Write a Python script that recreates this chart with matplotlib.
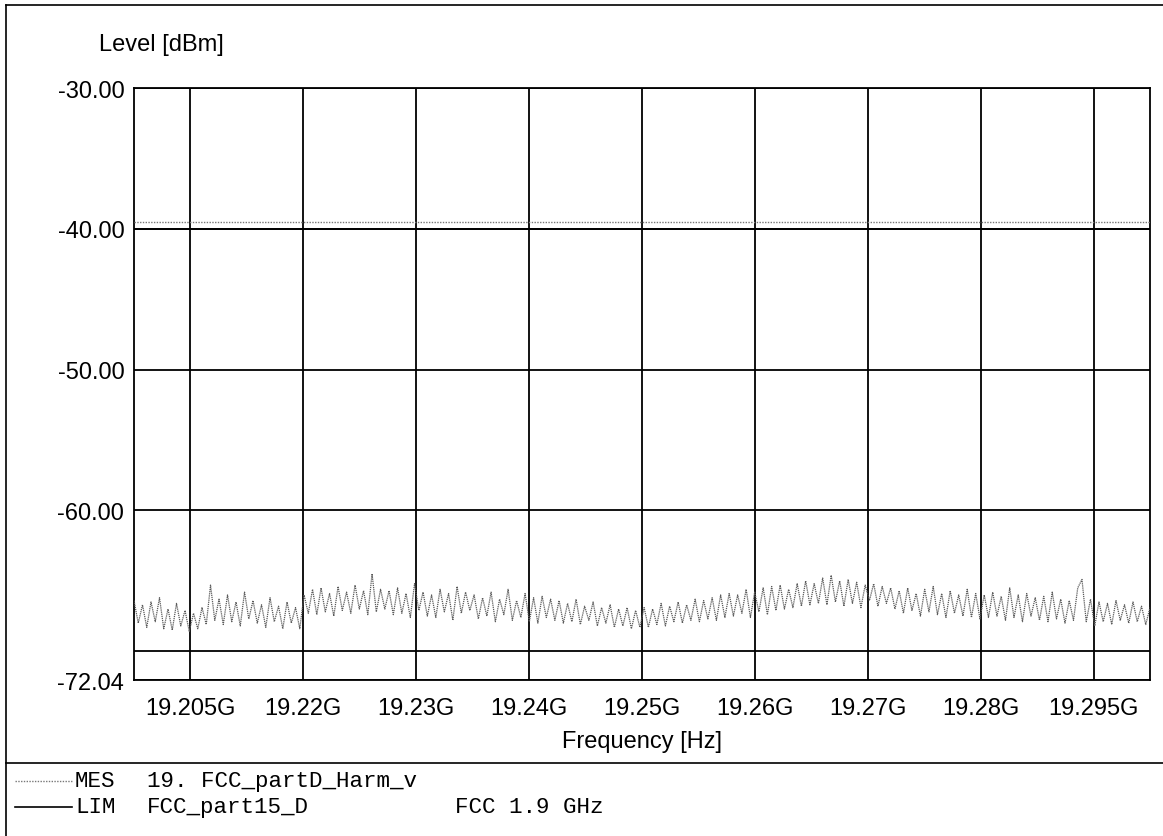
import matplotlib
matplotlib.use('Agg')
import matplotlib.pyplot as plt
import numpy as np
from matplotlib.lines import Line2D

# sweep settings (GHz)
freq_start = 19.205
freq_stop = 19.295

mes_level = [
    -66.4, -68.0, -66.7, -68.3, -66.5, -67.9, -66.2, -68.4, -67.0, -68.5, -66.6, -68.2, -67.1, -68.6, -67.3, -68.4, -66.9, -68.1, -65.3, -67.8,
    -66.3, -68.1, -66.0, -67.9, -66.5, -68.2, -65.8, -67.7, -66.4, -68.0, -66.7, -68.3, -66.2, -67.9, -66.8, -68.4, -66.5, -68.0, -66.9, -68.4,
    -66.0, -67.3, -65.6, -67.4, -65.5, -67.2, -65.9, -67.5, -65.4, -67.1, -65.8, -67.3, -65.3, -67.0, -65.7, -67.4, -64.5, -67.2, -65.6, -67.0,
    -65.7, -67.4, -65.5, -67.3, -65.9, -67.6, -65.2, -67.1, -65.8, -67.5, -66.0, -67.6, -65.6, -67.2, -65.9, -67.8, -65.4, -67.3, -65.8, -67.1,
    -66.0, -67.7, -66.2, -67.5, -65.8, -67.9, -66.3, -67.4, -65.6, -67.8, -66.4, -67.6, -65.9, -67.9, -66.2, -68.0, -66.1, -67.6, -66.3, -67.8,
    -66.4, -68.0, -66.6, -67.9, -66.3, -68.1, -66.8, -67.8, -66.5, -68.2, -66.9, -68.0, -66.7, -68.3, -67.0, -68.2, -66.9, -68.4, -67.1, -68.3,
    -66.9, -68.3, -67.0, -68.1, -66.6, -68.2, -66.8, -67.9, -66.5, -68.0, -66.7, -67.8, -66.3, -67.9, -66.4, -67.7, -66.2, -67.8, -66.0, -67.6,
    -65.9, -67.5, -66.0, -67.3, -65.6, -67.6, -65.8, -67.2, -65.5, -67.4, -65.4, -67.1, -65.3, -67.0, -65.6, -66.9, -65.2, -66.8, -65.0, -66.7,
    -65.2, -66.6, -64.8, -66.7, -64.6, -66.5, -65.0, -66.8, -64.9, -66.6, -65.1, -66.9, -65.3, -66.4, -65.2, -66.8, -65.4, -66.6, -65.5, -67.0,
    -65.7, -67.3, -65.5, -67.1, -65.9, -67.5, -65.6, -67.2, -65.4, -67.4, -65.9, -67.6, -65.7, -67.3, -66.0, -67.5, -65.6, -67.6, -65.9, -67.7,
    -66.0, -67.6, -65.8, -67.5, -66.1, -67.8, -65.5, -67.6, -66.0, -67.9, -65.9, -67.5, -66.2, -67.8, -66.1, -67.9, -65.8, -67.7, -66.3, -68.0,
    -66.4, -67.8, -65.5, -64.9, -67.9, -66.3, -68.2, -66.5, -67.9, -66.6, -68.1, -66.4, -67.8, -66.7, -68.0, -66.5, -67.9, -66.8, -68.1, -66.9,
]

lim_level = -40.0
upper_dotted_level = -39.5

y_min, y_max = -72.04, -30.0
y_ticks = [-72.04, -70, -60, -50, -40, -30]
y_ticklabels = ['-72.04', '', '-60.00', '-50.00', '-40.00', '-30.00']

x_ticks = [19.21, 19.22, 19.23, 19.24, 19.25, 19.26, 19.27, 19.28, 19.29]
x_ticklabels = ['19.205G', '19.22G', '19.23G', '19.24G', '19.25G',
                '19.26G', '19.27G', '19.28G', '19.295G']

freqs = np.linspace(freq_start, freq_stop, len(mes_level))

plt.rcParams['font.family'] = ['Liberation Sans', 'DejaVu Sans']

fig = plt.figure(figsize=(11.63, 8.37), dpi=100)
W, H = 1163, 837
ax = fig.add_axes([134 / W, 1 - 681 / H, (1150 - 134) / W, (681 - 89) / H])

ax.plot(freqs, mes_level, color='#5a5a5a', linestyle=(0, (1, 0.7)), linewidth=0.9, zorder=3)
ax.axhline(upper_dotted_level, color='#777777', linestyle=(0, (1, 1)), linewidth=1.0, zorder=3)
ax.axhline(lim_level, color='black', linewidth=1.3, zorder=3)

ax.set_xlim(freq_start, freq_stop)
ax.set_ylim(y_min, y_max)
ax.set_xticks(x_ticks)
ax.set_xticklabels(x_ticklabels)
ax.set_yticks(y_ticks)
ax.set_yticklabels(y_ticklabels)
ax.tick_params(axis='both', length=0, labelsize=17)
ax.tick_params(axis='x', pad=12)
ax.tick_params(axis='y', pad=7)
ax.grid(True, color='black', linewidth=1.3)
for s in ax.spines.values():
    s.set_linewidth(1.3)

ax.set_xlabel('Frequency [Hz]', fontsize=17, labelpad=8)
fig.text(161 / W, 1 - 45 / H, 'Level [dBm]', fontsize=17, ha='center', va='center')

# outer frame and legend separator
fig.add_artist(Line2D([6 / W, 1], [1 - 6 / H, 1 - 6 / H], color='black', linewidth=1.2))
fig.add_artist(Line2D([6 / W, 6 / W], [0, 1 - 6 / H], color='black', linewidth=1.2))
fig.add_artist(Line2D([6 / W, 1], [1 - 764 / H, 1 - 764 / H], color='black', linewidth=1.2))

# legend rows
mono = {'family': ['Liberation Mono', 'DejaVu Sans Mono'], 'fontsize': 16.2}
fig.add_artist(Line2D([15 / W, 72 / W], [1 - 782 / H] * 2, color='#777777',
                      linestyle=(0, (1, 1)), linewidth=1.0))
fig.add_artist(Line2D([15 / W, 72 / W], [1 - 808 / H] * 2, color='black', linewidth=1.2))
fig.text(75 / W, 1 - 782 / H, 'MES', va='center', **mono)
fig.text(147 / W, 1 - 782 / H, '19. FCC_partD_Harm_v', va='center', **mono)
fig.text(75 / W, 1 - 808 / H, 'LIM', va='center', **mono)
fig.text(147 / W, 1 - 808 / H, 'FCC_part15_D', va='center', **mono)
fig.text(455 / W, 1 - 808 / H, 'FCC 1.9 GHz', va='center', **mono)

fig.savefig('out.png', dpi=100)
